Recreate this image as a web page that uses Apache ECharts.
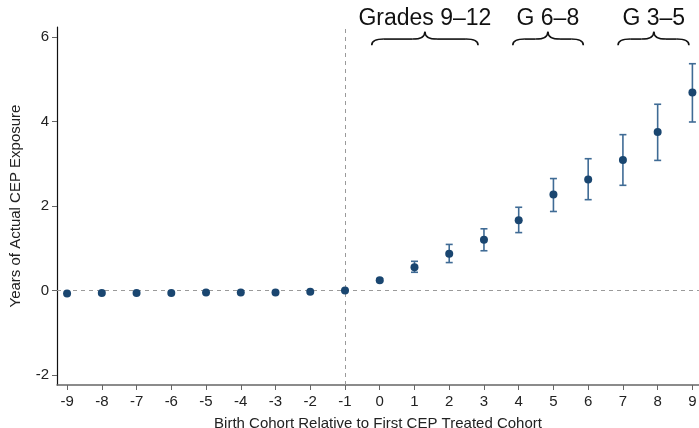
<!DOCTYPE html>
<html>
<head>
<meta charset="utf-8">
<script src="https://cdn.jsdelivr.net/npm/echarts@6/dist/echarts.min.js"></script>
<style>html,body{margin:0;padding:0;background:#fff}#c{width:699px;height:428px}</style>
</head>
<body>
<div id="c"></div>
<script>
var cohorts = [-9,-8,-7,-6,-5,-4,-3,-2,-1,0,1,2,3,4,5,6,7,8,9];
var estimates = [-0.07,-0.06,-0.06,-0.06,-0.05,-0.05,-0.05,-0.03,0.0,0.24,0.55,0.87,1.20,1.66,2.27,2.63,3.09,3.75,4.69];
var ciLow =  [null,null,null,null,null,null,null,null,null,0.21,0.43,0.66,0.94,1.37,1.87,2.15,2.49,3.08,3.99];
var ciHigh = [null,null,null,null,null,null,null,null,null,0.28,0.69,1.09,1.46,1.97,2.65,3.12,3.69,4.41,5.37];
var yTicks = [-2,0,2,4,6];
var braceLabels = ['Grades 9\u201312','G 6\u20138','G 3\u20135'];
var braceFrom = [-0.23, 3.83, 6.86];
var braceTo = [2.83, 5.86, 8.9];
var braceCenter = [1.3, 4.84, 7.89];

var FONT = 'Liberation Sans, Arial, Helvetica, sans-serif';
var ptColor = '#1a4670';
var barColor = '#3f6b95';

var pts = cohorts.map(function(c,i){return [c, estimates[i]];});
var bars = [];
cohorts.forEach(function(c,i){ if (ciLow[i]!==null) bars.push([c, ciLow[i], ciHigh[i]]); });
var braces = braceLabels.map(function(l,i){return [braceFrom[i], braceTo[i], braceCenter[i], i];});

var chart = echarts.init(document.getElementById('c'), null, {renderer:'canvas'});
chart.setOption({
  animation:false,
  backgroundColor:'#fff',
  grid:{left:57,right:0,top:27,bottom:43,containLabel:false,outerBoundsMode:'none'},
  xAxis:{
    type:'value', min:-9.29, max:9.19,
    name:'Birth Cohort Relative to First CEP Treated Cohort',
    nameLocation:'middle', nameGap:31,
    nameTextStyle:{fontFamily:FONT,fontSize:15,color:'#222'},
    axisLine:{show:true,onZero:false,lineStyle:{color:'#666',width:1.5}},
    axisTick:{show:true,length:5,customValues:cohorts,lineStyle:{color:'#666'}},
    axisLabel:{customValues:cohorts,margin:9,fontFamily:FONT,fontSize:15,color:'#222'},
    splitLine:{show:false}
  },
  yAxis:{
    type:'value', min:-2.24, max:6.24,
    name:'Years of Actual CEP Exposure',
    nameLocation:'middle', nameGap:34,
    nameTextStyle:{fontFamily:FONT,fontSize:15,color:'#222'},
    axisLine:{show:true,onZero:false,lineStyle:{color:'#111',width:1.2}},
    axisTick:{show:true,length:5,customValues:yTicks,lineStyle:{color:'#666'}},
    axisLabel:{customValues:yTicks,margin:8,fontFamily:FONT,fontSize:15,color:'#222'},
    splitLine:{show:false}
  },
  series:[
    {
      type:'scatter', data:[], silent:true,
      markLine:{
        silent:true, symbol:'none', label:{show:false},
        lineStyle:{color:'#9a9a9a',type:[4,4],width:1},
        data:[{yAxis:0},{xAxis:-1}]
      }
    },
    {
      type:'custom', data:bars, silent:true, z:3,
      renderItem:function(params, api){
        var x = api.value(0);
        var lo = api.coord([x, api.value(1)]);
        var hi = api.coord([x, api.value(2)]);
        var w = 3.5;
        var st = {stroke:barColor, lineWidth:1.6};
        return {type:'group', children:[
          {type:'line', shape:{x1:lo[0],y1:lo[1],x2:hi[0],y2:hi[1]}, style:st},
          {type:'line', shape:{x1:lo[0]-w,y1:lo[1],x2:lo[0]+w,y2:lo[1]}, style:st},
          {type:'line', shape:{x1:hi[0]-w,y1:hi[1],x2:hi[0]+w,y2:hi[1]}, style:st}
        ]};
      }
    },
    {
      type:'scatter', data:pts, symbol:'circle', symbolSize:8, z:5,
      itemStyle:{color:ptColor, opacity:1}
    },
    {
      type:'custom', data:braces, silent:true, clip:false, z:6,
      renderItem:function(params, api){
        var a = api.coord([api.value(0), 5.81]);
        var b = api.coord([api.value(1), 5.81]);
        var c = api.coord([api.value(2), 6.13]);
        var lbl = api.coord([api.value(2), 6.43]);
        var yB = a[1], yT = c[1];
        var h = yB - yT;
        var yM = yT + h*0.55;
        var r = h*0.9;
        var st = {stroke:'#111', lineWidth:1.6, fill:null};
        var xc = c[0];
        return {type:'group', children:[
          {type:'bezierCurve', shape:{x1:a[0],y1:yB,x2:a[0]+r,y2:yM,cpx1:a[0],cpy1:yM}, style:st},
          {type:'line', shape:{x1:a[0]+r,y1:yM,x2:xc-r,y2:yM}, style:st},
          {type:'bezierCurve', shape:{x1:xc-r,y1:yM,x2:xc,y2:yT,cpx1:xc,cpy1:yM}, style:st},
          {type:'bezierCurve', shape:{x1:xc,y1:yT,x2:xc+r,y2:yM,cpx1:xc,cpy1:yM}, style:st},
          {type:'line', shape:{x1:xc+r,y1:yM,x2:b[0]-r,y2:yM}, style:st},
          {type:'bezierCurve', shape:{x1:b[0]-r,y1:yM,x2:b[0],y2:yB,cpx1:b[0],cpy1:yM}, style:st},
          {type:'text', style:{text:braceLabels[api.value(3)], x:lbl[0], y:lbl[1], align:'center', verticalAlign:'middle', font:'23px ' + FONT, fill:'#111'}}
        ]};
      }
    }
  ]
});
</script>
</body>
</html>
